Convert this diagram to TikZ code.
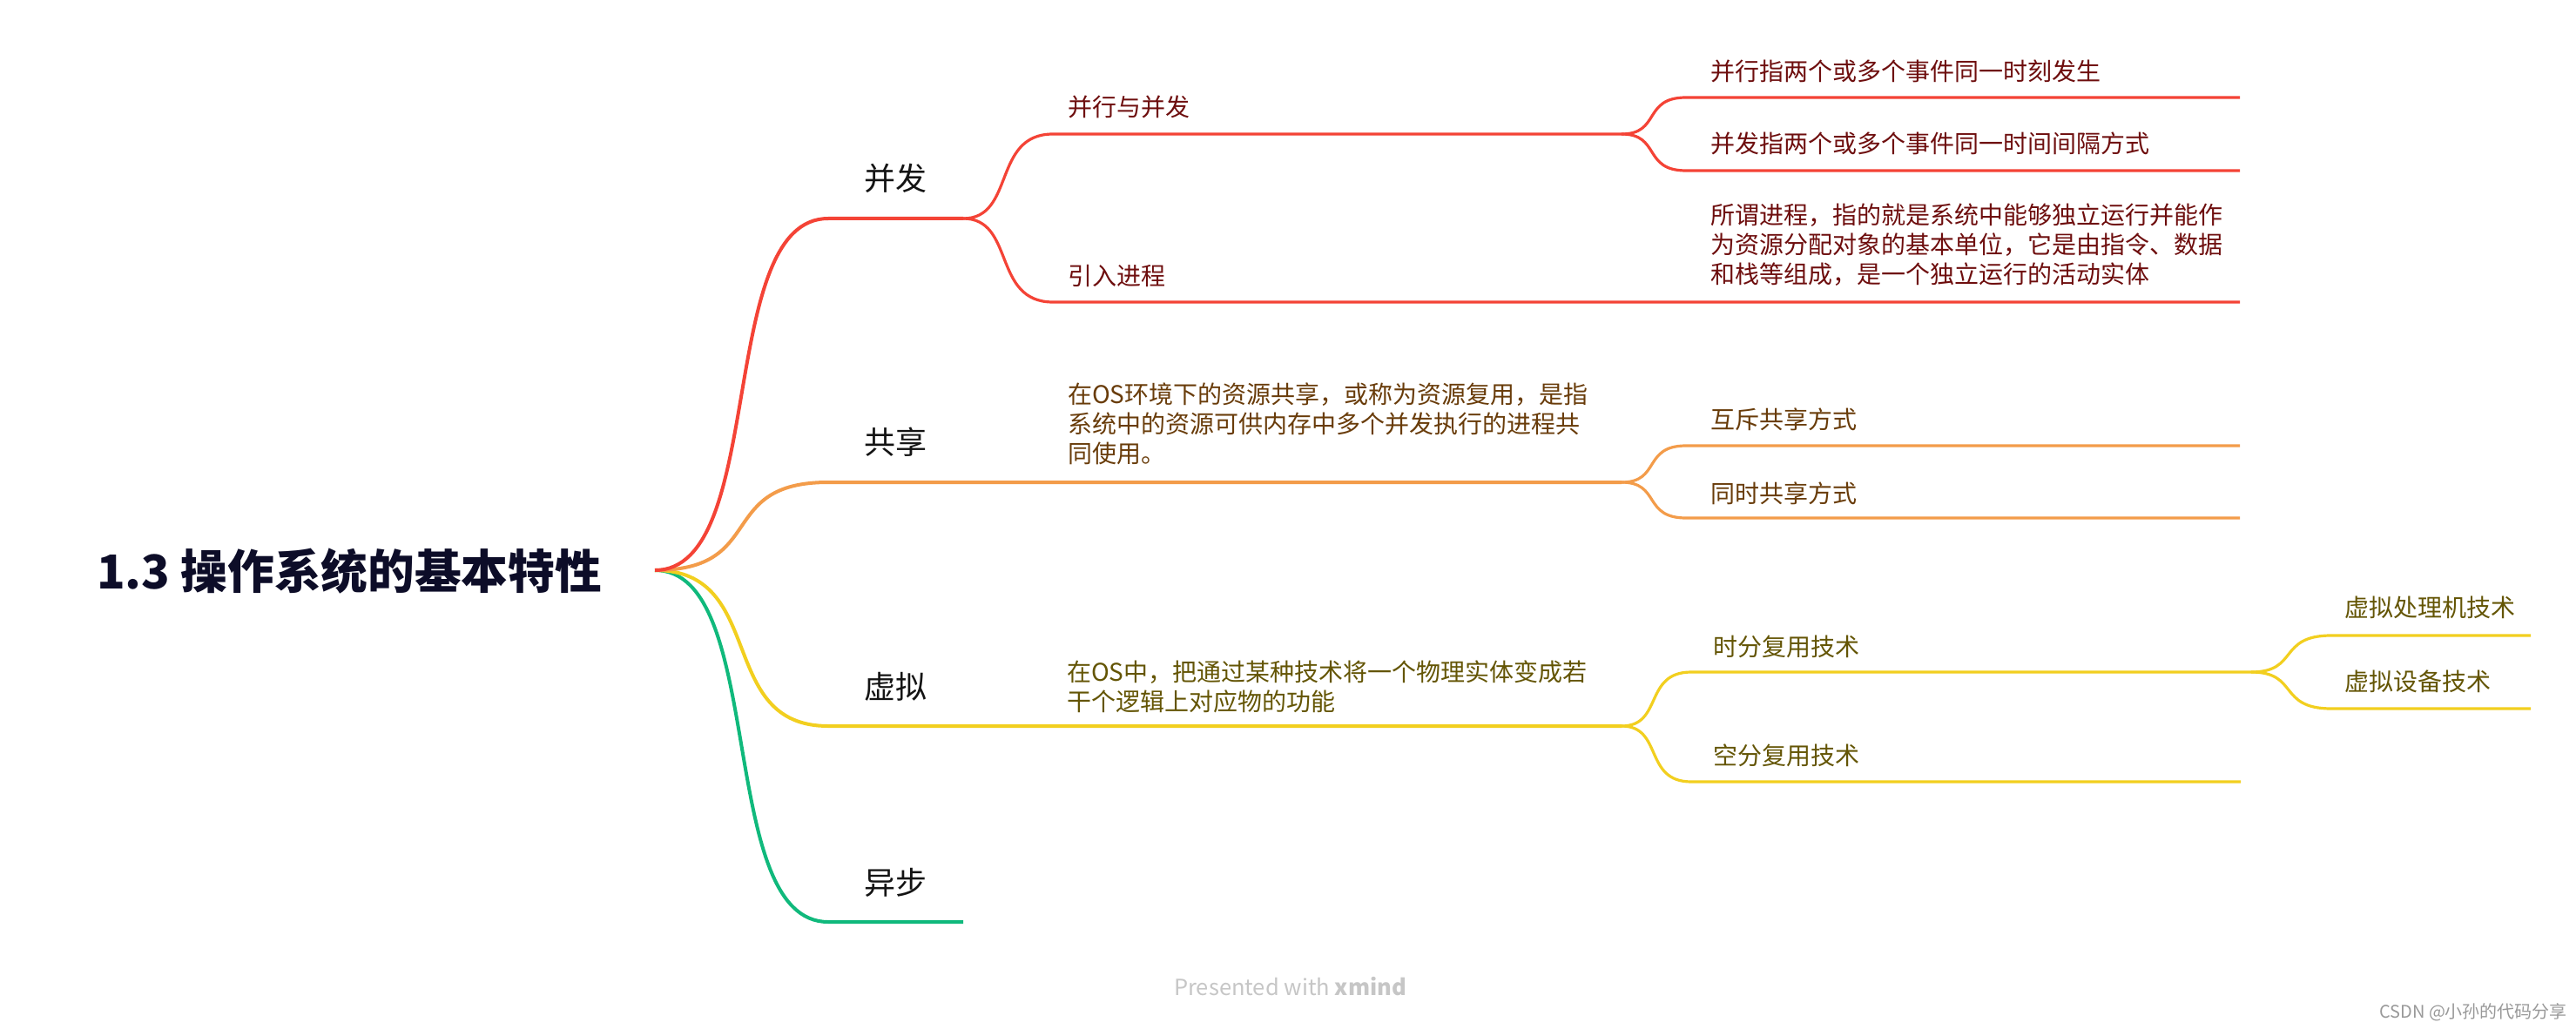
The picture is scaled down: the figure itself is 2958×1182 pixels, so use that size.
\documentclass[tikz,border=0pt]{standalone}
\usepackage{fontspec}
\setmainfont{Noto Sans CJK SC}
\definecolor{cred}{RGB}{244,67,54}
\definecolor{corange}{RGB}{243,156,74}
\definecolor{cyellow}{RGB}{242,207,31}
\definecolor{cgreen}{RGB}{16,185,124}
\definecolor{tred}{RGB}{110,14,14}
\definecolor{tbrown}{RGB}{105,60,10}
\definecolor{tolive}{RGB}{100,85,5}
\definecolor{tmain}{RGB}{20,20,20}
\definecolor{troot}{RGB}{13,13,40}
\begin{document}
\begin{tikzpicture}[x=1pt,y=-1pt,
  roottext/.style={anchor=west,inner sep=0pt,text=troot,font=\fontsize{53.7}{60}\selectfont\bfseries},
  maintext/.style={anchor=center,inner sep=0pt,text=tmain,font=\fontsize{36}{40}\selectfont},
  subtext/.style={anchor=west,inner sep=0pt,align=left,font=\fontsize{28}{34}\selectfont},
  mainline/.style={line width=4pt},
  subline/.style={line width=3.2pt},
  mark1/.style={text=gray!45,font=\fontsize{25.5}{28}\selectfont},
  mark2/.style={text=gray!80,font=\fontsize{20}{24}\selectfont}]
\useasboundingbox (0,0) rectangle (2958,1182);
\fill[white] (0,0) rectangle (2958,1182);
% ---------- root ----------
\node[roottext] (root) at (111,656) {1.3 操作系统的基本特性};
\coordinate (r0) at (752,655);
% ---------- level 1 coordinates ----------
\coordinate (b1s) at (951,251);  \coordinate (b1e) at (1106,251);
\coordinate (b2s) at (951,554);  \coordinate (b2e) at (1862,554);
\coordinate (b3s) at (951,834);  \coordinate (b3e) at (1862,834);
\coordinate (b4s) at (951,1059); \coordinate (b4e) at (1106,1059);
% level 2 under 并发
\coordinate (c1s) at (1209,154); \coordinate (c1e) at (1862,154);
\coordinate (c2s) at (1209,347); \coordinate (c2e) at (2572,347);
% level 3 under 并行与并发
\coordinate (d1s) at (1936,112); \coordinate (d1e) at (2572,112);
\coordinate (d2s) at (1936,196); \coordinate (d2e) at (2572,196);
% level 3 under 共享
\coordinate (e1s) at (1936,512); \coordinate (e1e) at (2572,512);
\coordinate (e2s) at (1936,595); \coordinate (e2e) at (2572,595);
% level 3 under 虚拟
\coordinate (f1s) at (1942,772); \coordinate (f1e) at (2585,772);
\coordinate (f2s) at (1942,898); \coordinate (f2e) at (2573,898);
% level 4 under 时分复用技术
\coordinate (g1s) at (2677,730); \coordinate (g1e) at (2906,730);
\coordinate (g2s) at (2677,814); \coordinate (g2e) at (2906,814);
% ---------- connectors ----------
\draw[mainline,cgreen] (r0) .. controls +(130,0) and +(-130,0) .. (b4s) -- (b4e);
\draw[mainline,cyellow] (r0) .. controls +(130,0) and +(-130,0) .. (b3s) -- (b3e);
\draw[mainline,corange] (r0) .. controls +(130,0) and +(-130,0) .. (b2s) -- (b2e);
\draw[mainline,cred] (r0) .. controls +(130,0) and +(-130,0) .. (b1s) -- (b1e);
\draw[subline,cred] (b1e) .. controls +(60,0) and +(-70,0) .. (c1s) -- (c1e);
\draw[subline,cred] (b1e) .. controls +(60,0) and +(-70,0) .. (c2s) -- (c2e);
\draw[subline,cred] (c1e) .. controls +(45,0) and +(-50,0) .. (d1s) -- (d1e);
\draw[subline,cred] (c1e) .. controls +(45,0) and +(-50,0) .. (d2s) -- (d2e);
\draw[subline,corange] (b2e) .. controls +(45,0) and +(-50,0) .. (e1s) -- (e1e);
\draw[subline,corange] (b2e) .. controls +(45,0) and +(-50,0) .. (e2s) -- (e2e);
\draw[subline,cyellow] (b3e) .. controls +(48,0) and +(-55,0) .. (f1s) -- (f1e);
\draw[subline,cyellow] (b3e) .. controls +(48,0) and +(-55,0) .. (f2s) -- (f2e);
\draw[subline,cyellow] (f1e) .. controls +(55,0) and +(-62,0) .. (g1s) -- (g1e);
\draw[subline,cyellow] (f1e) .. controls +(55,0) and +(-62,0) .. (g2s) -- (g2e);
% ---------- level 1 labels ----------
\node[maintext] (n1) at (1028,205) {并发};
\node[maintext] (n2) at (1028,508) {共享};
\node[maintext] (n3) at (1028,789) {虚拟};
\node[maintext] (n4) at (1028,1014) {异步};
% ---------- level 2 labels ----------
\node[subtext,text=tred] (n1a) at (1226,123) {并行与并发};
\node[subtext,text=tred] (n1b) at (1226,317) {引入进程};
\node[subtext,text=tbrown] (n2a) at (1226,486.5) {在OS环境下的资源共享，或称为资源复用，是指\\系统中的资源可供内存中多个并发执行的进程共\\同使用。};
\node[subtext,text=tolive] (n3a) at (1225,788.5) {在OS中，把通过某种技术将一个物理实体变成若\\干个逻辑上对应物的功能};
% ---------- level 3 labels ----------
\node[subtext,text=tred] (n1a1) at (1964,82) {并行指两个或多个事件同一时刻发生};
\node[subtext,text=tred] (n1a2) at (1964,165) {并发指两个或多个事件同一时间间隔方式};
\node[subtext,text=tred] (n1b1) at (1964,281) {所谓进程，指的就是系统中能够独立运行并能作\\为资源分配对象的基本单位，它是由指令、数据\\和栈等组成，是一个独立运行的活动实体};
\node[subtext,text=tbrown] (n2a1) at (1964,482) {互斥共享方式};
\node[subtext,text=tbrown] (n2a2) at (1964,567) {同时共享方式};
\node[subtext,text=tolive] (n3a1) at (1967,743) {时分复用技术};
\node[subtext,text=tolive] (n3a2) at (1967,868) {空分复用技术};
% ---------- level 4 labels ----------
\node[subtext,text=tolive] (n3a1a) at (2692,698) {虚拟处理机技术};
\node[subtext,text=tolive] (n3a1b) at (2692,783) {虚拟设备技术};
% ---------- watermarks ----------
\node[mark1,anchor=west,inner sep=0pt] (wm1) at (1348,1133) {Presented with \textbf{xmind}};
\node[mark2,anchor=west,inner sep=0pt] (wm2) at (2732,1163) {CSDN @小孙的代码分享};
\end{tikzpicture}
\end{document}
